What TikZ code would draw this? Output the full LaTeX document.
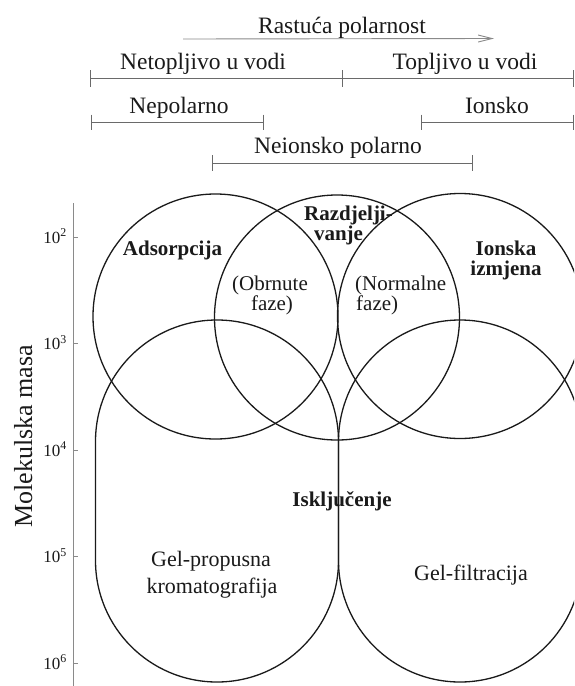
\documentclass[tikz,border=0pt]{standalone}
\usepackage{fontspec}
\setmainfont{Liberation Serif}
\usetikzlibrary{arrows.meta}
\definecolor{ink}{HTML}{1A1A1A}
\definecolor{rulec}{HTML}{6A6A6A}
\definecolor{axisc}{HTML}{8A8A8A}
\tikzset{
  toplab/.style={anchor=base, inner sep=0pt, text=ink, font=\fontsize{23.5}{23.5}\selectfont},
  boldlab/.style={anchor=base, inner sep=0pt, text=ink, font=\bfseries\fontsize{21}{21}\selectfont},
  phaselab/.style={anchor=base, inner sep=0pt, text=ink, font=\fontsize{21}{21}\selectfont},
  gellab/.style={anchor=base, inner sep=0pt, text=ink, font=\fontsize{22}{22}\selectfont},
  ticklab/.style={anchor=base east, inner sep=0pt, text=ink, font=\fontsize{17}{17}\selectfont},
  rangeline/.style={draw=rulec, line width=0.9pt},
  axisline/.style={draw=axisc, line width=0.9pt},
  shapeline/.style={draw=ink, line width=1.3pt},
}
\begin{document}
\begin{tikzpicture}[x=1pt, y=-1pt]
\fill[white] (0,0) rectangle (574,686);
\useasboundingbox (0,0) rectangle (574,686);

% polarity arrow
\coordinate (ar1) at (183,39);
\coordinate (ar2) at (494,38.5);
\draw[axisline, -{Straight Barb[length=14pt,width=7pt]}] (ar1) -- (ar2);
\node[toplab] (rast) at (342,33) {Rastuća polarnost};

% solubility range
\coordinate (s1) at (90,78.5);
\coordinate (s2) at (342,78.5);
\coordinate (s3) at (573,78.5);
\draw[rangeline] (s1) -- (s3);
\foreach \c in {s1,s2,s3} \draw[rangeline] ([yshift=8.5pt]\c) -- ([yshift=-8.5pt]\c);
\node[toplab] (netop) at (203,69) {Netopljivo u vodi};
\node[toplab] (top) at (465,69) {Topljivo u vodi};

% nonpolar / ionic
\coordinate (np1) at (91,122);
\coordinate (np2) at (263,122);
\draw[rangeline] (np1) -- (np2);
\foreach \c in {np1,np2} \draw[rangeline] ([yshift=7.5pt]\c) -- ([yshift=-7.5pt]\c);
\node[toplab] (nepol) at (179,113) {Nepolarno};
\coordinate (io1) at (421,122);
\coordinate (io2) at (573,122);
\draw[rangeline] (io1) -- (io2);
\foreach \c in {io1,io2} \draw[rangeline] ([yshift=7.5pt]\c) -- ([yshift=-7.5pt]\c);
\node[toplab] (ionsko) at (497,113) {Ionsko};

% non-ionic polar
\coordinate (ni1) at (212,163);
\coordinate (ni2) at (472,163);
\draw[rangeline] (ni1) -- (ni2);
\foreach \c in {ni1,ni2} \draw[rangeline] ([yshift=8pt]\c) -- ([yshift=-8pt]\c);
\node[toplab] (neion) at (338,153) {Neionsko polarno};

% axis
\coordinate (atop) at (73,203);
\coordinate (abot) at (73,686);
\draw[axisline] (atop) -- (abot);
\foreach \e/\yy in {2/237,3/343.5,4/450,5/556.5,6/663}{
  \draw[axisline] (73,\yy) -- (78,\yy);
  \node[ticklab] (t\e) at (67,\yy+6) {10\textsuperscript{\e}};
}
\node[anchor=base, inner sep=0pt, text=ink, rotate=90, font=\fontsize{26}{26}\selectfont] (ylab) at (32,436.5) {Molekulska masa};

% circles and stadiums
\begin{scope}
\clip (0,0) rectangle (574,686);
\draw[shapeline] (215.5,316.5) circle[radius=122.5pt];
\draw[shapeline] (337,317.5) circle[radius=122.5pt];
\draw[shapeline] (460,316) circle[radius=122.5pt];
\draw[shapeline, rounded corners=121.5pt] (95.5,320) rectangle (338.5,682);
\draw[shapeline, rounded corners=121.5pt] (338.5,320) rectangle (581.5,682);
\end{scope}

% labels in shapes
\node[boldlab] (ads) at (172.5,255) {Adsorpcija};
\node[boldlab] (raz1) at (348.5,220) {Razdjelji-};
\node[boldlab] (raz2) at (338.5,240) {vanje};
\node[boldlab] (ion1) at (506,255) {Ionska};
\node[boldlab] (ion2) at (506,275) {izmjena};
\node[phaselab] (obr1) at (270,290) {(Obrnute};
\node[phaselab] (obr2) at (272,310) {faze)};
\node[phaselab, anchor=base west] (nor1) at (355,290) {(Normalne};
\node[phaselab, anchor=base west] (nor2) at (356,310) {faze)};
\node[boldlab] (isk) at (342,506) {Isključenje};
\node[gellab] (gp1) at (211,566) {Gel-propusna};
\node[gellab] (gp2) at (212,593) {kromatografija};
\node[gellab] (gf) at (471,580) {Gel-filtracija};
\end{tikzpicture}
\end{document}
